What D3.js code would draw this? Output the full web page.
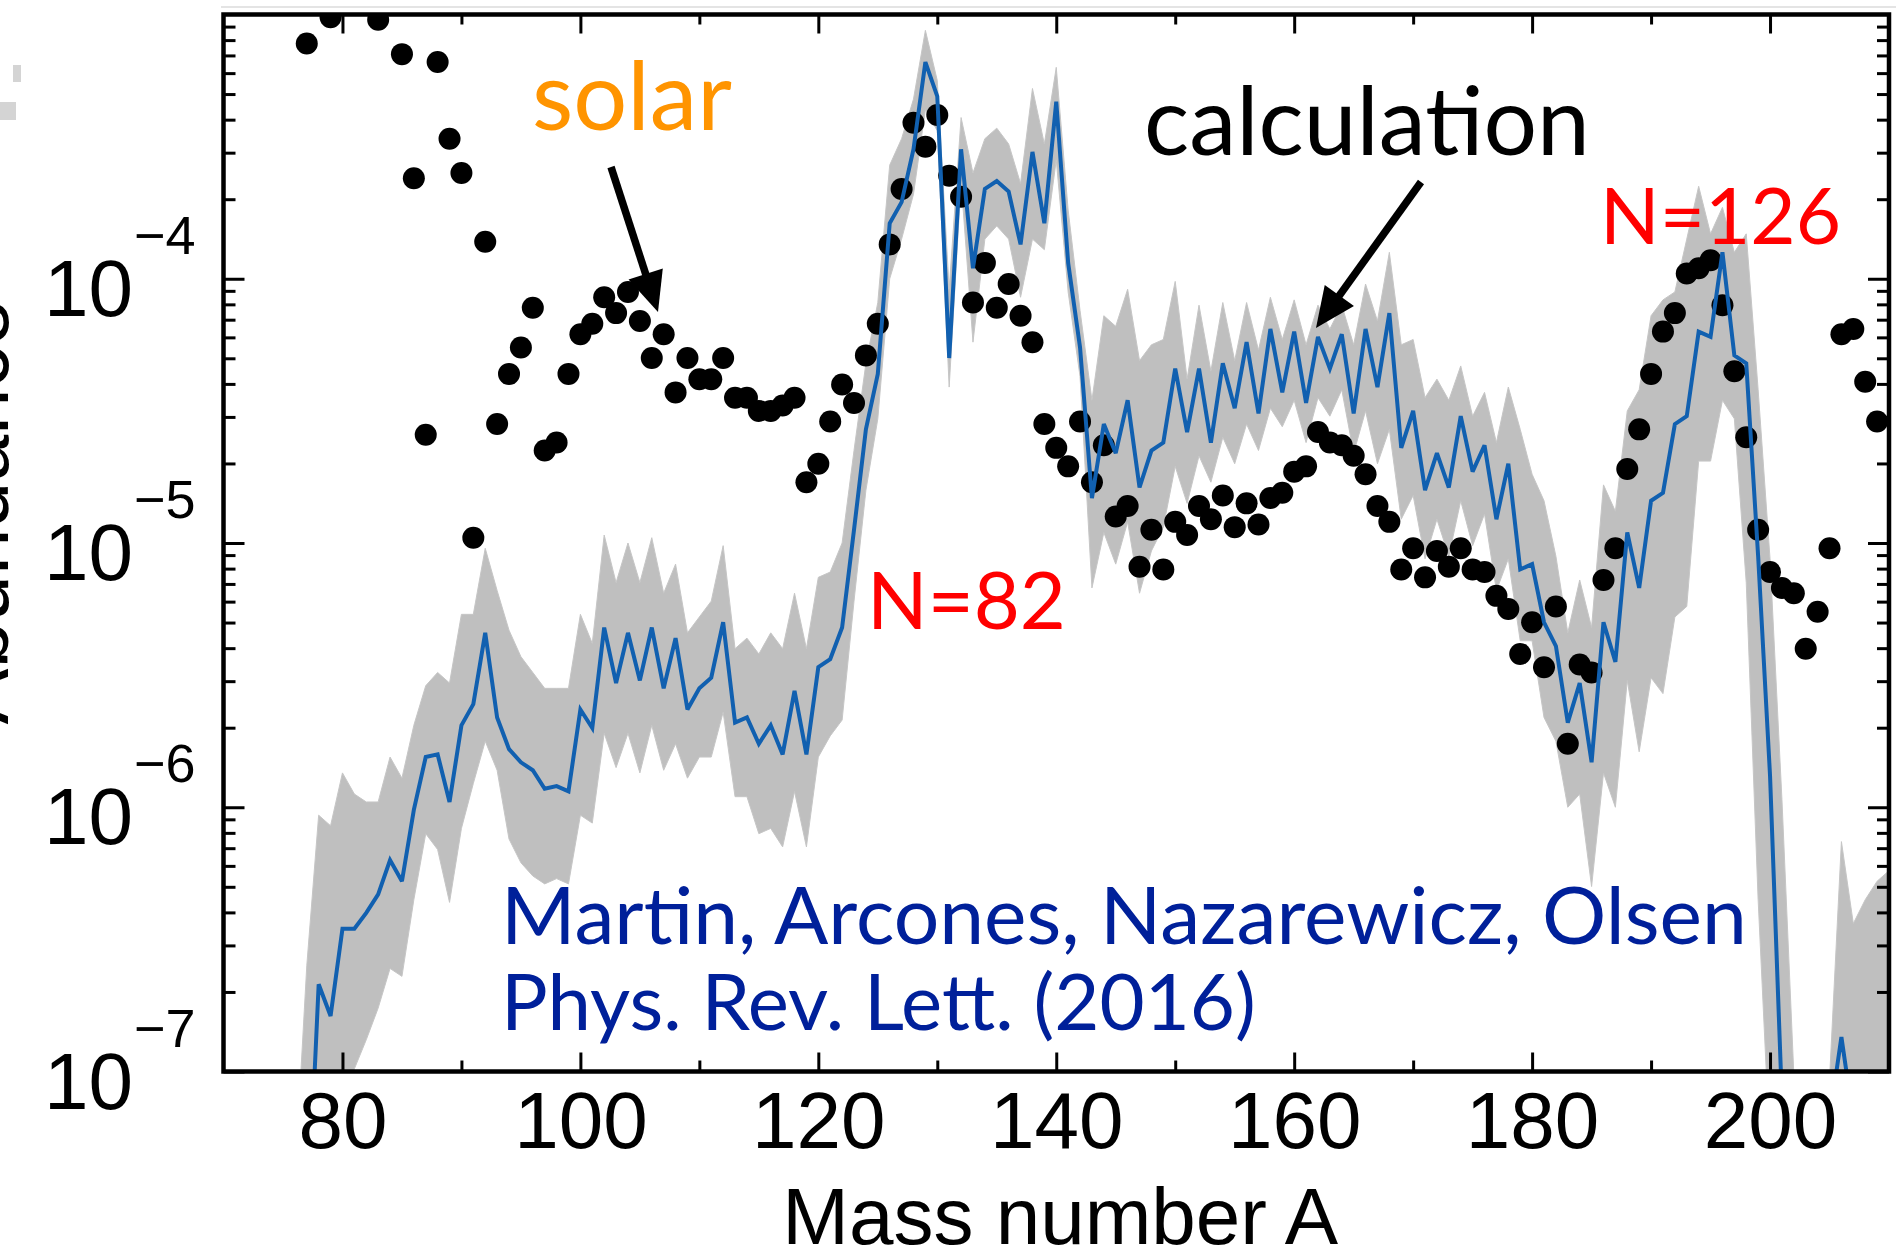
<!DOCTYPE html>
<html>
<head>
<meta charset="utf-8">
<script src="https://cdn.jsdelivr.net/npm/d3@7"></script>
<style>
  html, body { margin: 0; padding: 0; background: #ffffff; }
  svg { display: block; }
</style>
</head>
<body>
<svg id="chart" width="1896" height="1255"></svg>
<script>
// Mass numbers A covered by the arrays below (76 ... 210)
const massNumbers = d3.range(76, 211);

// Solar r-process abundances, log10 (null = off the top of the frame)
const solarLog = [
  null, -3.11, null, -3.01, null, null, null, -3.02, null, -3.15,   // 76-85
  -3.62, -4.59, -3.18, -3.47, -3.60, -4.98, -3.86, -4.55, -4.36, -4.26, // 86-95
  -4.11, -4.65, -4.62, -4.36, -4.21, -4.17, -4.07, -4.13, -4.05, -4.16, // 96-105
  -4.30, -4.21, -4.43, -4.30, -4.38, -4.38, -4.30, -4.45, -4.45, -4.50, // 106-115
  -4.50, -4.48, -4.45, -4.77, -4.70, -4.54, -4.40, -4.47, -4.29, -4.17, // 116-125
  -3.87, -3.66, -3.41, -3.50, -3.38, -3.61, -3.69, -4.09, -3.94, -4.11, // 126-135
  -4.02, -4.14, -4.24, -4.55, -4.64, -4.71, -4.54, -4.77, -4.63, -4.90, // 136-145
  -4.86, -5.09, -4.95, -5.10, -4.92, -4.97, -4.86, -4.91, -4.82, -4.94, // 146-155
  -4.85, -4.93, -4.83, -4.81, -4.73, -4.71, -4.58, -4.62, -4.63, -4.67, // 156-165
  -4.74, -4.86, -4.92, -5.10, -5.02, -5.13, -5.03, -5.09, -5.02, -5.10, // 166-175
  -5.11, -5.20, -5.25, -5.42, -5.30, -5.47, -5.24, -5.76, -5.46, -5.49, // 176-185
  -5.14, -5.02, -4.72, -4.57, -4.36, -4.20, -4.13, -3.98, -3.96, -3.93, // 186-195
  -4.10, -4.35, -4.60, -4.95, -5.11, -5.17, -5.19, -5.40, -5.26, -5.02, // 196-205
  -4.21, -4.19, -4.39, -4.54, null                                      // 206-210
];

// Calculated abundances (mean), log10
const calcLog = [
  null, -7.65, -6.67, -6.79, -6.46, -6.46, -6.40, -6.33, -6.20, -6.28,  // 76-85
  -6.01, -5.81, -5.80, -5.98, -5.69, -5.61, -5.34, -5.66, -5.78, -5.83, // 86-95
  -5.86, -5.93, -5.92, -5.94, -5.63, -5.70, -5.32, -5.53, -5.34, -5.52, // 96-105
  -5.32, -5.55, -5.36, -5.63, -5.55, -5.51, -5.30, -5.68, -5.66, -5.76, // 106-115
  -5.69, -5.80, -5.56, -5.80, -5.47, -5.44, -5.32, -4.95, -4.57, -4.36, // 116-125
  -3.79, -3.71, -3.51, -3.18, -3.31, -4.30, -3.51, -3.96, -3.66, -3.63, // 126-135
  -3.67, -3.87, -3.52, -3.79, -3.33, -3.94, -4.26, -4.83, -4.55, -4.66, // 136-145
  -4.46, -4.79, -4.65, -4.62, -4.34, -4.58, -4.34, -4.62, -4.32, -4.49, // 146-155
  -4.24, -4.51, -4.19, -4.43, -4.20, -4.47, -4.22, -4.34, -4.21, -4.51, // 156-165
  -4.19, -4.41, -4.13, -4.64, -4.50, -4.80, -4.66, -4.79, -4.52, -4.73, // 166-175
  -4.63, -4.91, -4.70, -5.10, -5.08, -5.30, -5.39, -5.68, -5.53, -5.83, // 176-185
  -5.30, -5.45, -4.96, -5.17, -4.84, -4.81, -4.55, -4.52, -4.20, -4.22, // 186-195
  -3.90, -4.29, -4.32, -5.05, -5.88, -7.11, -7.87, -8.05, -7.87, -7.18, // 196-205
  -6.87, -7.18, -7.67, -7.87, -7.87                                     // 206-210
];

// Uncertainty band, lower edge, log10
const bandLowLog = [
  -8.20, -8.24, -7.67, -7.41, -7.11, -6.99, -6.88, -6.76, -6.61, -6.64, // 76-85
  -6.35, -6.10, -6.16, -6.36, -6.08, -5.91, -5.75, -5.86, -6.12, -6.21, // 86-95
  -6.26, -6.29, -6.27, -6.29, -6.03, -6.06, -5.72, -5.85, -5.72, -5.87, // 96-105
  -5.69, -5.86, -5.76, -5.89, -5.81, -5.81, -5.64, -5.96, -5.96, -6.10, // 106-115
  -6.08, -6.15, -5.94, -6.15, -5.81, -5.73, -5.67, -5.22, -4.80, -4.53, // 116-125
  -4.00, -3.85, -3.68, -3.36, -3.44, -4.41, -3.63, -4.24, -3.85, -3.80, // 126-135
  -3.85, -4.07, -3.85, -3.89, -3.55, -4.05, -4.37, -5.17, -4.96, -5.08, // 136-145
  -4.92, -5.19, -5.03, -4.94, -4.71, -4.85, -4.67, -4.77, -4.60, -4.70, // 146-155
  -4.55, -4.65, -4.49, -4.56, -4.46, -4.62, -4.45, -4.52, -4.42, -4.66, // 156-165
  -4.50, -4.70, -4.57, -4.91, -4.82, -5.06, -4.91, -5.05, -4.84, -5.01, // 166-175
  -4.89, -5.18, -5.06, -5.37, -5.37, -5.66, -5.75, -6.00, -5.95, -6.30, // 176-185
  -5.87, -6.00, -5.52, -5.79, -5.51, -5.57, -5.28, -5.24, -4.69, -4.69, // 186-195
  -4.46, -4.53, -5.15, -6.35, -7.30, -8.00, -8.00, -8.00, -8.00, -8.00, // 196-205
  -8.00, -8.00, -8.00, -8.00, -8.00                                     // 206-210
];

// Uncertainty band, upper edge, log10
const bandHighLog = [
  -7.41, -6.60, -6.03, -6.07, -5.87, -5.95, -5.98, -5.98, -5.81, -5.89, // 76-85
  -5.69, -5.54, -5.49, -5.53, -5.27, -5.27, -5.02, -5.18, -5.33, -5.43, // 86-95
  -5.49, -5.55, -5.55, -5.55, -5.27, -5.38, -4.97, -5.15, -5.00, -5.15, // 96-105
  -4.98, -5.19, -5.08, -5.34, -5.28, -5.22, -5.01, -5.40, -5.36, -5.42, // 106-115
  -5.34, -5.40, -5.19, -5.40, -5.13, -5.11, -5.00, -4.65, -4.32, -4.09, // 116-125
  -3.57, -3.47, -3.32, -3.06, -3.25, -4.04, -3.39, -3.60, -3.47, -3.43, // 126-135
  -3.49, -3.64, -3.28, -3.49, -3.20, -3.74, -4.12, -4.46, -4.14, -4.18, // 136-145
  -4.04, -4.31, -4.25, -4.23, -4.01, -4.38, -4.10, -4.35, -4.09, -4.31, // 146-155
  -4.09, -4.27, -4.07, -4.23, -4.08, -4.25, -4.10, -4.19, -4.10, -4.25, // 156-165
  -4.02, -4.16, -3.90, -4.25, -4.23, -4.45, -4.38, -4.46, -4.33, -4.52, // 166-175
  -4.43, -4.62, -4.41, -4.57, -4.74, -4.84, -5.05, -5.34, -5.14, -5.32, // 176-185
  -4.78, -4.88, -4.50, -4.42, -4.14, -4.08, -4.05, -3.85, -3.65, -3.83, // 186-195
  -3.73, -3.90, -3.83, -4.42, -5.06, -5.97, -7.01, -7.30, -7.30, -7.03, // 196-205
  -6.13, -6.44, -6.35, -6.28, -6.24                                     // 206-210
];

// Axis ticks
const xTicksMajor = [80, 100, 120, 140, 160, 180, 200];
const xTicksMinor = [90, 110, 130, 150, 170, 190];
const yDecadeExponents = [-7, -6, -5, -4];

// Text annotations
const xAxisTitle = "Mass number A";
const yAxisTitle = "Abundance";
const citationLines = ["Martin, Arcones, Nazarewicz, Olsen", "Phys. Rev. Lett. (2016)"];

// ---------------------------------------------------------------------------
const svg = d3.select("#chart");
const plot = { left: 223.5, right: 1889, top: 14.5, bottom: 1071.5 };

const x = d3.scaleLinear().domain([70, 210]).range([plot.left, plot.right]);
const y = d3.scaleLog().domain([1e-7, 1e-3]).range([plot.bottom, plot.top]);

const rows = massNumbers.map((A, i) => ({
  A,
  solar: solarLog[i],
  calc: calcLog[i],
  lo: bandLowLog[i],
  hi: bandHighLog[i]
}));

svg.append("rect").attr("width", 1896).attr("height", 1255).attr("fill", "#ffffff");

// faint remnants along the upper-left margin
svg.append("line").attr("x1", 221).attr("x2", 1896).attr("y1", 7).attr("y2", 7)
  .attr("stroke", "#e4e4e4").attr("stroke-width", 2);
svg.append("rect").attr("x", 13).attr("y", 65).attr("width", 8).attr("height", 17).attr("fill", "#d4d4d4");
svg.append("rect").attr("x", 0).attr("y", 102).attr("width", 16).attr("height", 18).attr("fill", "#d4d4d4");

svg.append("defs").append("clipPath").attr("id", "plotClip")
  .append("rect")
  .attr("x", plot.left).attr("y", plot.top)
  .attr("width", plot.right - plot.left).attr("height", plot.bottom - plot.top);

const gPlot = svg.append("g").attr("clip-path", "url(#plotClip)");

// uncertainty band
const band = d3.area()
  .defined(d => d.lo != null && d.hi != null)
  .x(d => x(d.A))
  .y0(d => y(Math.pow(10, d.lo)))
  .y1(d => y(Math.pow(10, d.hi)));
gPlot.append("path").datum(rows).attr("d", band)
  .attr("fill", "#bfbfbf").attr("stroke", "#c6c6c6").attr("stroke-width", 1);

// solar abundances
gPlot.append("g").selectAll("circle")
  .data(rows.filter(d => d.solar != null))
  .join("circle")
  .attr("cx", d => x(d.A))
  .attr("cy", d => y(Math.pow(10, d.solar)))
  .attr("r", 11)
  .attr("fill", "#000000");

// calculated abundance
const calcLine = d3.line()
  .defined(d => d.calc != null)
  .x(d => x(d.A))
  .y(d => y(Math.pow(10, d.calc)));
gPlot.append("path").datum(rows).attr("d", calcLine)
  .attr("fill", "none").attr("stroke", "#1160b0").attr("stroke-width", 4)
  .attr("stroke-linejoin", "miter").attr("stroke-miterlimit", 3);

// ---------------- axes ----------------
function styleAxis(g) {
  g.select(".domain").remove();
  g.selectAll(".tick line").attr("stroke", "#000").attr("stroke-width", 3);
}
const fmtNone = () => "";

svg.append("g").attr("transform", `translate(0,${plot.bottom})`)
  .call(d3.axisBottom(x).tickValues(xTicksMajor).tickSize(-19).tickPadding(20).tickFormat(d3.format("d")))
  .call(styleAxis)
  .call(g => g.selectAll(".tick text")
    .attr("font-family", "'Liberation Sans', Arial, sans-serif")
    .attr("font-size", 80).attr("fill", "#000"));
svg.append("g").attr("transform", `translate(0,${plot.bottom})`)
  .call(d3.axisBottom(x).tickValues(xTicksMinor).tickSize(-11).tickFormat(fmtNone))
  .call(styleAxis);

svg.append("g").attr("transform", `translate(0,${plot.top})`)
  .call(d3.axisTop(x).tickValues(xTicksMajor).tickSize(-19).tickFormat(fmtNone))
  .call(styleAxis);
svg.append("g").attr("transform", `translate(0,${plot.top})`)
  .call(d3.axisTop(x).tickValues(xTicksMinor).tickSize(-10).tickFormat(fmtNone))
  .call(styleAxis);

const decadeValues = yDecadeExponents.map(e => Math.pow(10, e));
const minorValues = [];
yDecadeExponents.forEach(e => { for (let k = 2; k <= 9; k++) minorValues.push(k * Math.pow(10, e)); });

[["left", plot.left, d3.axisLeft], ["right", plot.right, d3.axisRight]].forEach(([side, xpos, axisFn]) => {
  svg.append("g").attr("transform", `translate(${xpos},0)`)
    .call(axisFn(y).tickValues(decadeValues).tickSize(-21).tickFormat(fmtNone))
    .call(styleAxis);
  svg.append("g").attr("transform", `translate(${xpos},0)`)
    .call(axisFn(y).tickValues(minorValues).tickSize(-12).tickFormat(fmtNone))
    .call(styleAxis);
});

// y tick labels as 10 with a superscript exponent
const yLabels = svg.append("g")
  .attr("font-family", "'Liberation Sans', Arial, sans-serif").attr("fill", "#000");
yDecadeExponents.forEach(e => {
  const ty = y(Math.pow(10, e));
  yLabels.append("text").attr("x", 133).attr("y", ty + 37)
    .attr("text-anchor", "end").attr("font-size", 80).text("10");
  yLabels.append("text").attr("x", 134).attr("y", ty - 25)
    .attr("text-anchor", "start").attr("font-size", 54).text("\u2212" + Math.abs(e));
});

// frame
svg.append("rect")
  .attr("x", plot.left).attr("y", plot.top)
  .attr("width", plot.right - plot.left).attr("height", plot.bottom - plot.top)
  .attr("fill", "none").attr("stroke", "#000").attr("stroke-width", 4.5);

// axis titles
svg.append("text")
  .attr("x", (plot.left + plot.right) / 2 + 4).attr("y", 1244)
  .attr("text-anchor", "middle")
  .attr("font-family", "'Liberation Sans', Arial, sans-serif")
  .attr("font-size", 80).attr("fill", "#000")
  .text(xAxisTitle);
svg.append("text")
  .attr("transform", "translate(8,512) rotate(-90)")
  .attr("text-anchor", "middle")
  .attr("font-family", "'Liberation Sans', Arial, sans-serif")
  .attr("font-size", 84).attr("fill", "#000")
  .text(yAxisTitle);

// ---------------- annotations ----------------
const annoFont = "Lato, 'Open Sans', 'Noto Sans', sans-serif";
function fitText(sel, width) {
  const w = sel.node().getComputedTextLength();
  const fs = parseFloat(sel.attr("font-size"));
  sel.attr("font-size", fs * width / w);
  return sel;
}
function label(txt, x0, baseline, width, color, size) {
  const t = svg.append("text")
    .attr("x", x0).attr("y", baseline)
    .attr("font-family", annoFont).attr("font-size", size)
    .attr("fill", color).text(txt);
  return fitText(t, width);
}

label("solar", 532, 130, 200, "#ff9400", 92);
label("calculation", 1144, 155, 446, "#000000", 92);
label("N=126", 1600, 244, 241, "#ff0000", 78);
label("N=82", 867, 629, 199, "#ff0000", 78);
label(citationLines[0], 501, 944, 1246, "#00209a", 78);
label(citationLines[1], 501, 1030, 755, "#00209a", 78);

// arrows pointing at the two curves
function arrow(x1, y1, x2, y2) {
  const dx = x2 - x1, dy = y2 - y1, len = Math.hypot(dx, dy);
  const ux = dx / len, uy = dy / len;
  const headLen = 40, halfW = 18;
  const bx = x2 - ux * headLen, by = y2 - uy * headLen;
  svg.append("line")
    .attr("x1", x1).attr("y1", y1).attr("x2", bx + ux * 4).attr("y2", by + uy * 4)
    .attr("stroke", "#000").attr("stroke-width", 7.5);
  svg.append("path")
    .attr("d", `M${x2},${y2} L${bx - uy * halfW},${by + ux * halfW} L${bx + uy * halfW},${by - ux * halfW} Z`)
    .attr("fill", "#000");
}
arrow(611, 167, 658, 312);
arrow(1421, 182, 1316, 328);
</script>
</body>
</html>
